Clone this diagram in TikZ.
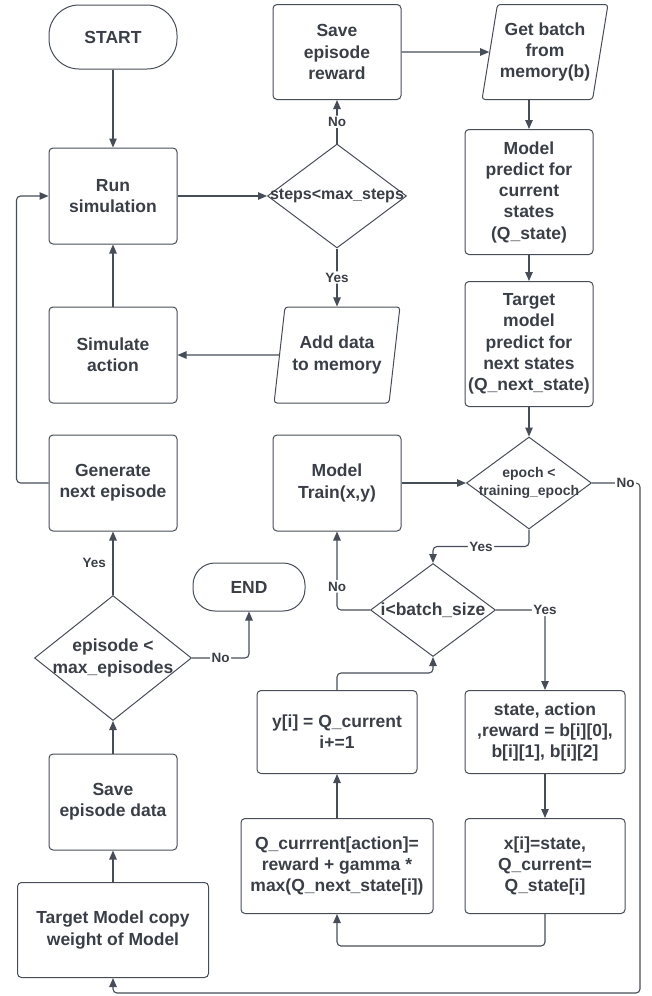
\documentclass[tikz,border=0pt]{standalone}
\usepackage{fontspec}
\setmainfont{Liberation Sans}
\usetikzlibrary{shapes.geometric}
\usetikzlibrary{arrows.meta}
\definecolor{linegray}{HTML}{474D57}
\definecolor{textgray}{HTML}{3A3F47}

\begin{document}
\begin{tikzpicture}[x=1pt, y=-1pt,
        >={Triangle[length=9pt, width=7.5pt]},
        every node/.style={text=textgray, align=center, font=\bfseries\fontsize{17.5}{21.25}\selectfont},
        box/.style={draw=linegray, line width=1pt, rectangle, rounded corners=4pt, inner sep=0pt, minimum width=128pt, minimum height=96pt},
        term/.style={draw=linegray, line width=1pt, rectangle, rounded corners=30pt, minimum width=128pt, minimum height=64pt},
        io/.style={draw=linegray, line width=1pt, trapezium, trapezium left angle=76, trapezium right angle=104, trapezium stretches=true, inner sep=0pt, minimum width=126pt, minimum height=95pt, rounded corners=3pt},
        decision/.style={draw=linegray, line width=1pt, diamond, inner sep=0pt},
        conn/.style={draw=linegray, line width=1.1pt, rounded corners=4pt},
        lbl/.style={fill=white, inner sep=1.5pt, font=\bfseries\fontsize{13.5}{16}\selectfont},
    ]
        \useasboundingbox (0,0) rectangle (651,996);

        \node[term] (start) at (113,37) {START};
        \node[box, minimum height=95pt] (saverew) at (337,52) {Save\\episode\\reward};
        \node[io] (getbatch) at (545,52) {Get batch\\from\\memory(b)};

        \node[box] (runsim) at (113,196) {Run\\simulation};
        \node[decision, minimum width=139pt, minimum height=104pt,
            label={[font=\bfseries\fontsize{16}{19}\selectfont]center:steps<max\_steps}] (steps) at (337,196) {};
        \node[box, minimum height=125pt] (pred) at (529,192) {Model\\predict for\\current\\states\\(Q\_state)};

        \node[box] (sim) at (113,355) {Simulate\\action};
        \node[io, minimum height=96pt] (adddata) at (337,355) {Add data\\to memory};
        \node[box, minimum height=125pt] (target) at (529,344) {Target\\model\\predict for\\next states\\(Q\_next\_state)};

        \node[box] (gen) at (113,483) {Generate\\next episode};
        \node[box] (train) at (337,483) {Model\\Train(x,y)};
        \node[decision, minimum width=125pt, minimum height=92pt,
            label={[font=\bfseries\fontsize{14}{17.5}\selectfont]center:epoch <\\training\_epoch}] (epoch) at (529,483) {};

        \node[term, minimum width=112pt, minimum height=48pt, rounded corners=22pt] (endnode) at (249,587) {END};
        \node[decision, minimum width=125pt, minimum height=93pt, label={center:i<batch\_size}] (batch) at (433,610) {};
        \node[decision, minimum width=157pt, minimum height=125pt, label={center:episode <\\max\_episodes}] (episode) at (113,658) {};

        \node[box, minimum width=160pt, minimum height=83pt] (yi) at (337,732) {y[i] = Q\_current\\i+=1};
        \node[box, minimum width=160pt, minimum height=83pt] (state) at (545,732) {state, action\\,reward = b[i][0],\\b[i][1], b[i][2]};

        \node[box] (savedata) at (113,802) {Save\\episode data};
        \node[box, minimum width=192pt, minimum height=95pt] (qcur) at (337,866) {Q\_currrent[action]=\\reward + gamma *\\max(Q\_next\_state[i])};
        \node[box, minimum width=160pt, minimum height=95pt] (xi) at (545,866) {x[i]=state,\\Q\_current=\\Q\_state[i]};
        \node[box, minimum width=191pt, minimum height=95pt] (copy) at (113,930) {Target Model copy\\weight of Model};

        \draw[conn, ->] (start) -- (runsim);
        \draw[conn, ->] (runsim) -- (steps);
        \draw[conn, ->] (steps) -- node[lbl] {No} (saverew);
        \draw[conn, ->] (steps) -- node[lbl] {Yes} (adddata);
        \draw[conn, ->] (saverew) -- (getbatch);
        \draw[conn, ->] (getbatch.south -| pred.north) -- (pred.north);
        \draw[conn, ->] (pred) -- (target);
        \draw[conn, ->] (adddata) -- (sim);
        \draw[conn, ->] (sim) -- (runsim);
        \draw[conn, ->] (gen.west) -- ++(-32,0) |- (runsim.west);

        \draw[conn, ->] (target) -- (epoch);
        \draw[conn, ->] (train) -- (epoch);
        \draw[conn, ->] (epoch.east) -- node[lbl, pos=0.7] {No} ++(48,0) |- ([yshift=-15pt]copy.south) -- (copy.south);
        \draw[conn, ->] (epoch.south) -- ++(0,17) -| node[lbl, pos=0.25] {Yes} (batch.north);
        \draw[conn, ->] (batch.west) -| node[lbl, pos=0.65] {No} (train.south);
        \draw[conn, ->] (batch.east) -| node[lbl, pos=0.5] {Yes} (state.north);
        \draw[conn, ->] (state) -- (xi);
        \draw[conn, ->] (xi.south) -- ++(0,32) -| (qcur.south);
        \draw[conn, ->] (qcur) -- (yi);
        \draw[conn, ->] (yi.north) -- ++(0,-17) -| (batch.south);

        \draw[conn, ->] (episode) -- node[lbl, left=5pt] {Yes} (gen);
        \draw[conn, ->] (episode.east) -| node[lbl, pos=0.25] {No} (endnode.south);
        \draw[conn, ->] (savedata) -- (episode);
        \draw[conn, ->] (copy) -- (savedata);
    \end{tikzpicture}
\end{document}
